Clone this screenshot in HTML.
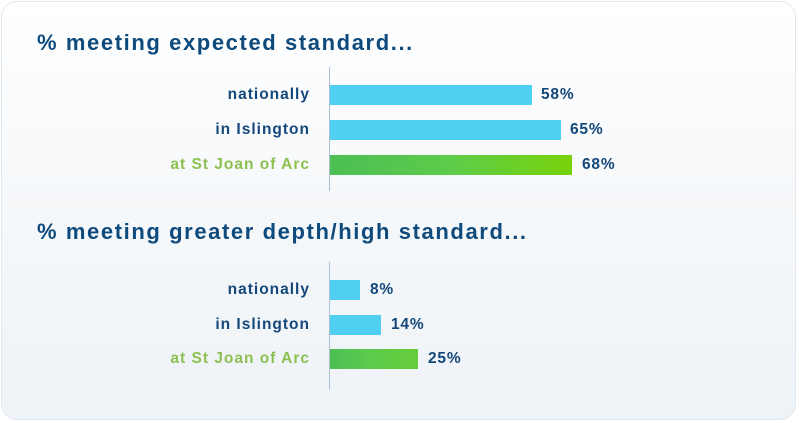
<!DOCTYPE html>
<html><head><style>
body{margin:0;width:799px;height:423px;background:#fff;font-family:"Liberation Sans",sans-serif;}
.card{position:absolute;left:1px;top:1px;width:795px;height:419px;border:1px solid #e3e8ee;border-radius:16px;background:linear-gradient(#ffffff 0%,#f7f9fb 40%,#eef3f7 100%);box-sizing:border-box;}
.t{position:absolute;left:37px;font-size:22px;letter-spacing:1.6px;font-weight:bold;color:#0e4a7c;white-space:nowrap;}
.ax{position:absolute;left:329px;width:1px;background:#a9bfd3;}
.lb{position:absolute;right:489px;font-size:15.5px;letter-spacing:1px;font-weight:bold;color:#14477a;line-height:20px;white-space:nowrap;}
.g{color:#8cc152;}
.bar{position:absolute;left:330px;height:20px;background:#50d0f0;}
.gb{background:linear-gradient(90deg,#4cbf55 0%,#5dcc4a 50%,#78d20a 100%);}
.v{position:absolute;font-size:15.5px;letter-spacing:0.8px;font-weight:bold;color:#14477a;line-height:20px;}
</style></head><body>
<div class="card"></div>
<div class="t" style="top:30px">% meeting expected standard...</div>
<div class="ax" style="top:67px;height:124px"></div>
<div class="lb" style="top:85px">nationally</div>
<div class="bar" style="top:85px;width:202px"></div><div class="v" style="left:541px;top:85px">58%</div>
<div class="lb" style="top:120px">in Islington</div>
<div class="bar" style="top:120px;width:231px"></div><div class="v" style="left:570px;top:120px">65%</div>
<div class="lb g" style="top:155px">at St Joan of Arc</div>
<div class="bar gb" style="top:155px;width:242px"></div><div class="v" style="left:582px;top:155px">68%</div>
<div class="t" style="top:219px">% meeting greater depth/high standard...</div>
<div class="ax" style="top:262px;height:128px"></div>
<div class="lb" style="top:280px">nationally</div>
<div class="bar" style="top:280px;width:30px"></div><div class="v" style="left:370px;top:280px">8%</div>
<div class="lb" style="top:315px">in Islington</div>
<div class="bar" style="top:315px;width:51px"></div><div class="v" style="left:391px;top:315px">14%</div>
<div class="lb g" style="top:349px">at St Joan of Arc</div>
<div class="bar gb" style="top:349px;width:88px;background:linear-gradient(90deg,#4cbf55,#5dcc4a 50%,#66cc3a)"></div><div class="v" style="left:428px;top:349px">25%</div>
</body></html>
